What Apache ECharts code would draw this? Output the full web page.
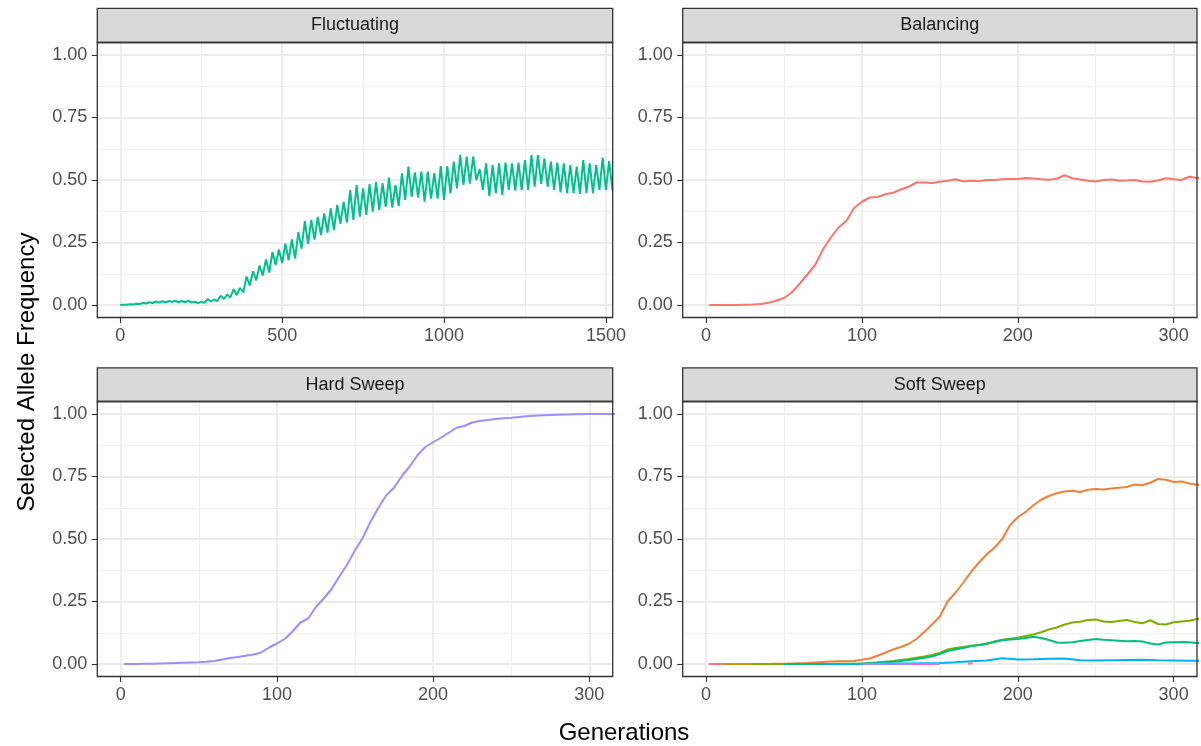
<!DOCTYPE html>
<html><head><meta charset="utf-8">
<script src="https://cdn.jsdelivr.net/npm/echarts@6/dist/echarts.min.js"></script>
<style>html,body{margin:0;padding:0;background:#fff}#c{width:1201px;height:746px}</style>
</head><body><div id="c"></div>
<script>
// ---------- tick labels / categories ----------
const panelTitles = ['Fluctuating', 'Balancing', 'Hard Sweep', 'Soft Sweep'];
const yTicks = [0, 0.25, 0.5, 0.75, 1];
const yMinorTicks = [0.125, 0.375, 0.625, 0.875];
const flucTicks = [0, 500, 1000, 1500];
const flucMinorTicks = [250, 750, 1250];
const genTicks = [0, 100, 200, 300];
const genMinorTicks = [50, 150, 250];
const xTitle = 'Generations';
const yTitle = 'Selected Allele Frequency';

// ---------- series values ----------
// Fluctuating: sampled every 10 generations from 0
const flucStart = 0, flucStep = 10;
const flucFreq = [
0.000,0.001,0.001,0.003,0.002,0.005,0.004,0.008,0.006,0.011,
0.008,0.014,0.010,0.015,0.011,0.016,0.012,0.017,0.011,0.016,
0.011,0.017,0.010,0.013,0.008,0.012,0.009,0.024,0.014,0.022,
0.016,0.037,0.024,0.042,0.030,0.064,0.040,0.068,0.050,0.114,
0.078,0.135,0.098,0.158,0.118,0.182,0.130,0.212,0.160,0.222,
0.168,0.245,0.180,0.262,0.186,0.292,0.225,0.336,0.245,0.340,
0.262,0.352,0.280,0.366,0.290,0.386,0.300,0.400,0.325,0.413,
0.330,0.460,0.340,0.480,0.353,0.467,0.360,0.484,0.373,0.493,
0.380,0.487,0.393,0.510,0.390,0.480,0.395,0.527,0.420,0.554,
0.433,0.530,0.430,0.534,0.413,0.534,0.425,0.528,0.425,0.556,
0.420,0.556,0.446,0.574,0.466,0.600,0.480,0.594,0.485,0.594,
0.500,0.543,0.460,0.567,0.436,0.560,0.447,0.567,0.440,0.570,
0.460,0.567,0.457,0.570,0.460,0.580,0.460,0.600,0.473,0.600,
0.484,0.587,0.473,0.574,0.460,0.570,0.450,0.567,0.447,0.560,
0.447,0.554,0.444,0.580,0.447,0.567,0.447,0.560,0.460,0.590,
0.460,0.576,0.460
];

// Balancing / Hard sweep / Soft sweep: generation 2, then every 5 from 5 to 320
const gen5 = [2,5,10,15,20,25,30,35,40,45,50,55,60,65,70,75,80,85,90,95,100,105,110,115,120,125,130,135,140,145,150,155,160,165,170,175,180,185,190,195,200,205,210,215,220,225,230,235,240,245,250,255,260,265,270,275,280,285,290,295,300,305,310,315,320];
const balFreq = [
0.000,0.000,0.000,0.000,0.000,0.001,0.002,0.004,0.009,0.017,
0.028,0.050,0.085,0.122,0.160,0.222,0.270,0.310,0.336,0.388,
0.413,0.430,0.432,0.443,0.449,0.462,0.473,0.490,0.490,0.488,
0.493,0.497,0.503,0.494,0.497,0.495,0.500,0.500,0.503,0.504,
0.504,0.508,0.506,0.503,0.501,0.505,0.519,0.507,0.502,0.497,
0.494,0.500,0.502,0.497,0.498,0.500,0.494,0.493,0.498,0.507,
0.503,0.500,0.513,0.508,0.508
];
const hardFreq = [
0.000,0.000,0.000,0.001,0.001,0.002,0.003,0.004,0.005,0.006,
0.007,0.009,0.012,0.018,0.024,0.028,0.033,0.038,0.046,0.066,
0.082,0.100,0.130,0.166,0.182,0.228,0.262,0.300,0.350,0.398,
0.455,0.505,0.570,0.625,0.675,0.705,0.752,0.790,0.835,0.868,
0.887,0.905,0.925,0.945,0.952,0.966,0.972,0.976,0.980,0.983,
0.985,0.988,0.991,0.993,0.995,0.996,0.997,0.998,0.999,0.999,
1.000,1.000,1.000,1.000,1.000
];
const softOrange = [
0.000,0.000,0.000,0.000,0.000,0.000,0.000,0.000,0.000,0.001,
0.001,0.002,0.003,0.004,0.006,0.008,0.010,0.011,0.011,0.012,
0.017,0.022,0.033,0.045,0.058,0.068,0.080,0.100,0.128,0.158,
0.190,0.250,0.285,0.325,0.368,0.405,0.438,0.465,0.500,0.555,
0.587,0.608,0.635,0.657,0.672,0.683,0.690,0.693,0.688,0.697,
0.700,0.698,0.702,0.705,0.708,0.718,0.715,0.725,0.740,0.737,
0.728,0.730,0.722,0.717,0.716
];
const softOlive = [
0.000,0.000,0.000,0.000,0.000,0.000,0.000,0.000,0.000,0.000,
0.000,0.000,0.000,0.000,0.000,0.000,0.000,0.001,0.001,0.001,
0.002,0.004,0.006,0.009,0.012,0.016,0.020,0.025,0.030,0.036,
0.044,0.058,0.064,0.068,0.073,0.076,0.079,0.090,0.097,0.101,
0.105,0.112,0.118,0.127,0.138,0.146,0.158,0.166,0.169,0.176,
0.178,0.170,0.168,0.172,0.176,0.168,0.163,0.175,0.160,0.158,
0.167,0.170,0.173,0.180,0.183
];
// teal starts at generation 50
const softTealGen = [50,55,60,65,70,75,80,85,90,95,100,105,110,115,120,125,130,135,140,145,150,155,160,165,170,175,180,185,190,195,200,205,210,215,220,225,230,235,240,245,250,255,260,265,270,275,280,285,290,295,300,305,310,315,320];
const softTeal = [
0.000,0.000,0.000,0.000,0.000,0.000,0.000,0.000,0.000,0.000,
0.001,0.003,0.005,0.007,0.009,0.012,0.016,0.020,0.025,0.030,
0.040,0.052,0.058,0.064,0.071,0.076,0.082,0.088,0.095,0.098,
0.100,0.104,0.109,0.104,0.096,0.086,0.085,0.087,0.092,0.096,
0.100,0.097,0.095,0.093,0.091,0.092,0.090,0.082,0.078,0.086,
0.087,0.088,0.087,0.084,0.084
];
const softBlueGen = [75,80,90,100,110,120,130,140,150,160,170,180,190,200,210,220,230,240,250,260,270,280,290,300,310,320];
const softBlue = [0.000,0.000,0.000,0.001,0.001,0.002,0.002,0.003,0.004,0.007,0.011,0.014,0.023,0.018,0.019,0.021,0.022,0.015,0.014,0.015,0.016,0.017,0.015,0.014,0.013,0.013];
const softGoldGen = [2,10,20,30];
const softGold = [0.000,0.000,0.000,0.000];
const softSalmonGen = [2,6,12];
const softSalmon = [0.000,0.000,0.000];
const softPurpleGen = [100,110,120,130,140,150];
const softPurple = [0.000,0.000,0.000,0.000,0.000,0.000];
const softPinkGen = [132,136,140,146];
const softPink = [0.000,0.000,0.000,0.000];
const softRedGen = [168,171];
const softRed = [0.002,0.002];

// ---------- build ----------
function pairs(xs, ys) { return ys.map((v, i) => [xs[i], v]); }
const flucGen = flucFreq.map((_, i) => flucStart + i * flucStep);

const FONT = '"Liberation Sans", Arial, Helvetica, sans-serif';
const grids = [
  {left: 97.3, top: 42.5, width: 515.4, height: 275},
  {left: 682.7, top: 42.5, width: 514.3, height: 275},
  {left: 97.3, top: 401.5, width: 515.4, height: 275},
  {left: 682.7, top: 401.5, width: 514.3, height: 275}
];
const xRanges = [[-71, 1521], [-15, 315], [-15, 315], [-15, 315]];
const xMajor = [flucTicks, genTicks, genTicks, genTicks];
const xMinor = [flucMinorTicks, genMinorTicks, genMinorTicks, genMinorTicks];

const xAxes = [], yAxes = [];
// minor axes first (indices 0..3), major (4..7)
for (let i = 0; i < 4; i++) {
  xAxes.push({type: 'value', gridIndex: i, min: xRanges[i][0], max: xRanges[i][1], position: 'bottom',
    axisLine: {show: false, onZero: false}, axisLabel: {show: false},
    axisTick: {show: false, customValues: xMinor[i]},
    splitLine: {show: true, lineStyle: {color: '#EFEFEF', width: 1}}});
  yAxes.push({type: 'value', gridIndex: i, min: -0.05, max: 1.05, position: 'left',
    axisLine: {show: false, onZero: false}, axisLabel: {show: false},
    axisTick: {show: false, customValues: yMinorTicks},
    splitLine: {show: true, lineStyle: {color: '#EFEFEF', width: 1}}});
}
for (let i = 0; i < 4; i++) {
  xAxes.push({type: 'value', gridIndex: i, min: xRanges[i][0], max: xRanges[i][1], position: 'bottom',
    axisLine: {show: false, onZero: false},
    axisTick: {show: true, inside: false, length: 5.5, customValues: xMajor[i], lineStyle: {color: '#333333', width: 1.1}},
    axisLabel: {show: true, customValues: xMajor[i], margin: 10, color: '#4D4D4D', fontSize: 18, fontFamily: FONT,
      formatter: v => String(Math.round(v))},
    splitLine: {show: true, lineStyle: {color: '#EBEBEB', width: 1.8}}});
  yAxes.push({type: 'value', gridIndex: i, min: -0.05, max: 1.05, position: 'left',
    axisLine: {show: false, onZero: false},
    axisTick: {show: true, inside: false, length: 5.5, customValues: yTicks, lineStyle: {color: '#333333', width: 1.1}},
    axisLabel: {show: true, customValues: yTicks, margin: 10, color: '#4D4D4D', fontSize: 18, fontFamily: FONT,
      formatter: v => Number(v).toFixed(2)},
    splitLine: {show: true, lineStyle: {color: '#EBEBEB', width: 1.8}}});
}

function line(panel, data, color) {
  return {type: 'line', xAxisIndex: 4 + panel, yAxisIndex: 4 + panel, data: data,
    showSymbol: false, symbol: 'none', clip: true, silent: true,
    lineStyle: {color: color, width: 2}, itemStyle: {color: color}};
}

const series = [
  line(0, pairs(flucGen, flucFreq), '#00C08B'),
  line(1, pairs(gen5, balFreq), '#F8766D'),
  line(2, pairs(gen5, hardFreq), '#A08CFF'),
  line(3, pairs(gen5, softOrange), '#EC823A'),
  line(3, pairs(gen5, softOlive), '#7CAE00'),
  line(3, pairs(softTealGen, softTeal), '#00BF7D'),
  line(3, pairs(softBlueGen, softBlue), '#00B0F6'),
  line(3, pairs(softGoldGen, softGold), '#B79F00'),
  line(3, pairs(softSalmonGen, softSalmon), '#F8766D'),
  line(3, pairs(softPurpleGen, softPurple), '#A58AFF'),
  line(3, pairs(softPinkGen, softPink), '#F564E3'),
  line(3, pairs(softRedGen, softRed), '#F8766D')
];

const graphics = [];
const stripTops = [8.3, 8.3, 367.8, 367.8];
grids.forEach((g, i) => {
  const sTop = stripTops[i];
  const sH = g.top - sTop;
  graphics.push({type: 'rect', z: 100, shape: {x: g.left, y: sTop, width: g.width, height: sH},
    style: {fill: '#D9D9D9', stroke: '#333333', lineWidth: 1.3}});
  graphics.push({type: 'text', z: 101, x: g.left + g.width / 2, y: sTop + sH / 2,
    style: {text: panelTitles[i], fill: '#1A1A1A', font: '18px ' + FONT, textAlign: 'center', textVerticalAlign: 'middle'}});
  graphics.push({type: 'rect', z: 100, shape: {x: g.left, y: g.top, width: g.width, height: g.height},
    style: {fill: 'none', stroke: '#333333', lineWidth: 1.3}});
});
graphics.push({type: 'text', z: 101, x: 624, y: 733,
  style: {text: xTitle, fill: '#000000', font: '24px ' + FONT, textAlign: 'center', textVerticalAlign: 'middle'}});
graphics.push({type: 'text', z: 101, x: 27, y: 372, rotation: Math.PI / 2,
  style: {text: yTitle, fill: '#000000', font: '24px ' + FONT, textAlign: 'center', textVerticalAlign: 'middle'}});

const chart = echarts.init(document.getElementById('c'), null, {renderer: 'canvas'});
chart.setOption({
  animation: false,
  backgroundColor: '#FFFFFF',
  grid: grids.map(g => Object.assign({containLabel: false, show: false}, g)),
  xAxis: xAxes,
  yAxis: yAxes,
  series: series,
  graphic: graphics
});
</script></body></html>
